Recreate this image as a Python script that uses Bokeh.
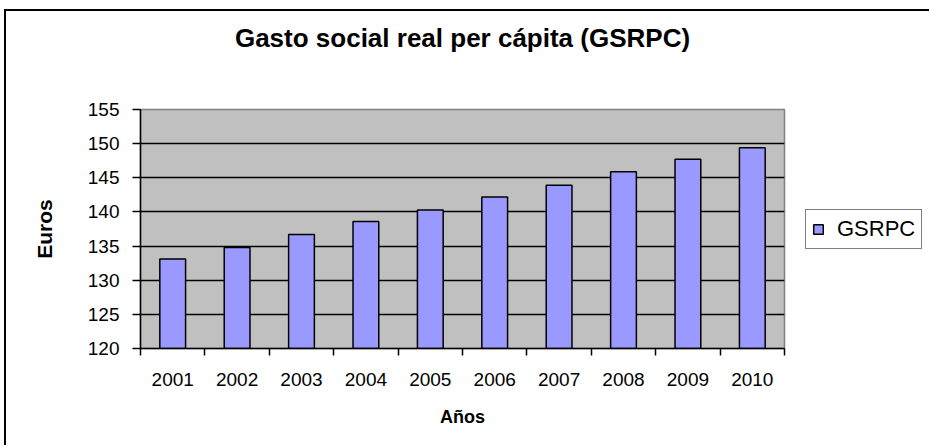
from bokeh.plotting import figure
from bokeh.models import Range1d, FixedTicker, Legend, LegendItem, ColumnDataSource, Title
from bokeh.embed import file_html
from bokeh.resources import INLINE

years = ["2001", "2002", "2003", "2004", "2005", "2006", "2007", "2008", "2009", "2010"]
gsrpc = [133.1, 134.8, 136.7, 138.6, 140.3, 142.2, 143.9, 145.9, 147.7, 149.4]
y_ticks = [120, 125, 130, 135, 140, 145, 150, 155]

x_pos = [i + 1 for i in range(len(years))]
boundaries = [i + 0.5 for i in range(len(years) + 1)]

FONT = "Liberation Sans"

p = figure(frame_width=644, frame_height=239, output_backend="svg", toolbar_location=None,
           x_range=Range1d(0.5, len(years) + 0.5), y_range=Range1d(120, 155),
           min_border_left=134, min_border_right=145, min_border_top=98, min_border_bottom=97)
p.styles = {"border-left": "2px solid black", "border-top": "2px solid black",
            "margin-left": "4px", "margin-top": "9px"}

src = ColumnDataSource(dict(x=x_pos, top=gsrpc))
r = p.vbar(x="x", top="top", bottom=120, width=0.4, source=src,
           fill_color="#9999FF", line_color="black", line_width=1.5)

p.background_fill_color = "#C0C0C0"
p.border_fill_color = "white"
p.outline_line_color = "#808080"
p.outline_line_width = 1.5

# title
p.title.text = "Gasto social real per cápita (GSRPC)"
p.title.align = "center"
p.title.vertical_align = "top"
p.title.text_font = FONT
p.title.text_font_size = "26px"
p.title.text_font_style = "bold"
p.title.text_color = "black"
p.title.standoff = 0

# spacer between title and plot area
p.add_layout(Title(text=" ", text_font_size="1px", standoff=52), "above")

# grid
p.xgrid.grid_line_color = None
p.ygrid.grid_line_color = "black"
p.ygrid.grid_line_width = 1.3
p.ygrid.ticker = FixedTicker(ticks=y_ticks)

# y axis
p.yaxis.ticker = FixedTicker(ticks=y_ticks)
p.yaxis.axis_label = "Euros"
p.yaxis.axis_label_text_font = FONT
p.yaxis.axis_label_text_font_size = "21px"
p.yaxis.axis_label_text_font_style = "bold"
p.yaxis.axis_label_text_color = "black"
p.yaxis.axis_label_standoff = 29
p.yaxis.major_label_text_font = FONT
p.yaxis.major_label_text_font_size = "19px"
p.yaxis.major_label_text_color = "black"
p.yaxis.major_label_standoff = 13
p.yaxis.major_tick_out = 8
p.yaxis.major_tick_in = 0
p.yaxis.minor_tick_line_color = None
p.yaxis.axis_line_width = 1.5
p.yaxis.axis_line_color = "black"
p.yaxis.major_tick_line_color = "black"
p.yaxis.major_tick_line_width = 1.5

# x axis
p.xaxis.ticker = FixedTicker(ticks=x_pos, minor_ticks=boundaries)
p.xaxis.major_label_overrides = {x: y for x, y in zip(x_pos, years)}
p.xaxis.axis_label = "Años"
p.xaxis.axis_label_text_font = FONT
p.xaxis.axis_label_text_font_size = "18px"
p.xaxis.axis_label_text_font_style = "bold"
p.xaxis.axis_label_text_color = "black"
p.xaxis.axis_label_standoff = 18
p.xaxis.major_label_text_font = FONT
p.xaxis.major_label_text_font_size = "19px"
p.xaxis.major_label_text_color = "black"
p.xaxis.major_label_standoff = 17
p.xaxis.major_tick_line_color = None
p.xaxis.minor_tick_out = 7
p.xaxis.minor_tick_in = 0
p.xaxis.minor_tick_line_color = "black"
p.xaxis.minor_tick_line_width = 1.5
p.xaxis.axis_line_width = 1.5
p.xaxis.axis_line_color = "black"

legend = Legend(items=[LegendItem(label="GSRPC", renderers=[r])],
                location="center_left", margin=21, padding=6,
                glyph_width=12, glyph_height=12, label_standoff=13,
                label_text_font=FONT, label_text_font_size="22px",
                label_text_color="black",
                border_line_color="black", border_line_width=1.5,
                background_fill_color="white", background_fill_alpha=1.0)
p.add_layout(legend, "right")

open("out.html", "w").write(file_html(p, INLINE))
